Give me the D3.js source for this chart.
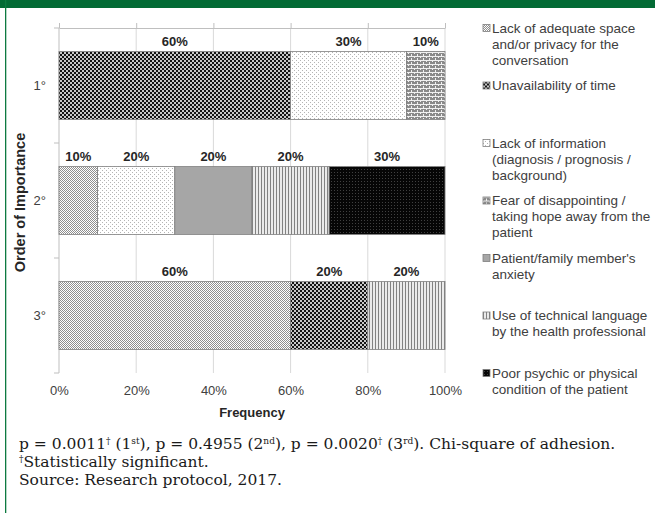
<!DOCTYPE html>
<html>
<head>
<meta charset="utf-8">
<script src="https://cdn.jsdelivr.net/npm/d3@7"></script>
<style>
  body { margin: 0; background: #fff; }
  svg { display: block; font-family: "Liberation Sans", Arial, sans-serif; }
</style>
</head>
<body>
<div id="chart"></div>
<script>
// categories (order of importance) and one array per reason, in % of answers
const categories = ["1°", "2°", "3°"];
const reasons = [
  "Lack of adequate space\nand/or privacy for the\nconversation",
  "Unavailability of time",
  "Lack of information\n(diagnosis / prognosis /\nbackground)",
  "Fear of disappointing /\ntaking hope away from the\npatient",
  "Patient/family member's\nanxiety",
  "Use of technical language\nby the health professional",
  "Poor psychic or physical\ncondition of the patient"
];
const lackSpace   = [0, 10, 60];
const noTime      = [60, 0, 20];
const lackInfo    = [30, 20, 0];
const fearHope    = [10, 0, 0];
const anxiety     = [0, 20, 0];
const technical   = [0, 20, 20];
const poorState   = [0, 30, 0];
const xTicks = [0, 20, 40, 60, 80, 100];

const series = [lackSpace, noTime, lackInfo, fearHope, anxiety, technical, poorState];
const keys = reasons.map((d, i) => "s" + i);
const patternIds = ["pSpace", "pTime", "pInfo", "pFear", "pAnx", "pTech", "pPoor"];

// rows for d3.stack
const rows = categories.map((c, j) => {
  const r = { cat: c };
  series.forEach((s, i) => r[keys[i]] = s[j]);
  return r;
});

const outerWidth = 655, outerHeight = 513;
const plot = { left: 59, right: 445, top: 28, bottom: 373 };

const svg = d3.select("#chart").append("svg")
  .attr("width", outerWidth)
  .attr("height", outerHeight);

// frame: green band on top and thin green line on the left
svg.append("rect").attr("x", 0).attr("y", 0).attr("width", outerWidth).attr("height", 8).attr("fill", "#036b35");
svg.append("rect").attr("x", 5).attr("y", 0).attr("width", 1.3).attr("height", outerHeight).attr("fill", "#0d7a40");

// fill patterns
const defs = svg.append("defs");
function pattern(id, w, h, bg, cells) {
  const p = defs.append("pattern").attr("id", id)
    .attr("patternUnits", "userSpaceOnUse")
    .attr("width", w).attr("height", h);
  p.append("rect").attr("width", w).attr("height", h).attr("fill", bg);
  cells.forEach(c => p.append("rect")
    .attr("x", c[0]).attr("y", c[1]).attr("width", c[2]).attr("height", c[3]).attr("fill", c[4]));
}
pattern("pSpace", 2, 2, "#ffffff", [[0, 0, 1, 1, "#8f8f8f"], [1, 1, 1, 1, "#8f8f8f"]]);
pattern("pTime", 4, 4, "#141414", [[0, 0, 2, 2, "#c8c8c8"], [2, 2, 2, 2, "#c8c8c8"]]);
pattern("pInfo", 4, 4, "#ffffff", [[0, 0, 1, 1, "#b4b4b4"], [2, 2, 1, 1, "#b4b4b4"]]);
pattern("pFear", 6, 4, "#8a8a8a", [[0, 0, 6, 1, "#f0f0f0"], [0, 0, 1, 2, "#f0f0f0"], [3, 2, 1, 2, "#f0f0f0"]]);
pattern("pAnx", 2, 2, "#a6a6a6", []);
pattern("pTech", 3, 2, "#ebebeb", [[0, 0, 1, 2, "#828282"]]);
pattern("pPoor", 3, 3, "#060606", [[1, 1, 1, 1, "#404040"]]);

const xScale = d3.scaleLinear().domain([0, 100]).range([plot.left, plot.right]);
const yScale = d3.scaleBand().domain(categories)
  .range([plot.top, plot.bottom])
  .paddingInner(0.41).paddingOuter(0.205);

// vertical gridlines
svg.append("g").selectAll("line")
  .data(xTicks.filter(d => d > 0))
  .join("line")
  .attr("x1", d => xScale(d)).attr("x2", d => xScale(d))
  .attr("y1", plot.top).attr("y2", plot.bottom)
  .attr("stroke", "#d9d9d9").attr("stroke-width", 1);

// top axis line with small ticks (no labels)
const topAxis = svg.append("g")
  .attr("transform", `translate(0,${plot.top})`)
  .call(d3.axisTop(xScale).tickValues(xTicks).tickSize(5).tickSizeOuter(0).tickFormat(""));
topAxis.selectAll("path, line").attr("stroke", "#bfbfbf");

// bottom labels
const bottomAxis = svg.append("g")
  .attr("transform", `translate(0,${plot.bottom})`)
  .call(d3.axisBottom(xScale).tickValues(xTicks).tickSize(0).tickPadding(13).tickFormat(d => d + "%"));
bottomAxis.select(".domain").remove();
bottomAxis.selectAll("text")
  .attr("font-family", "Liberation Sans, Arial, sans-serif")
  .attr("font-size", 13).attr("fill", "#404040");

// left axis: line, ticks at category boundaries, labels at centres
const step = yScale.step();
const bounds = [plot.top].concat(categories.map(c => yScale(c) + yScale.bandwidth() + step * yScale.paddingInner() / 2));
bounds[bounds.length - 1] = plot.bottom;
const leftAxis = svg.append("g");
leftAxis.append("line")
  .attr("x1", plot.left).attr("x2", plot.left)
  .attr("y1", plot.top).attr("y2", plot.bottom)
  .attr("stroke", "#bfbfbf");
leftAxis.selectAll(".tk").data(bounds).join("line").attr("class", "tk")
  .attr("x1", plot.left - 5).attr("x2", plot.left)
  .attr("y1", d => d).attr("y2", d => d)
  .attr("stroke", "#bfbfbf");
leftAxis.selectAll("text").data(categories).join("text")
  .attr("x", 46)
  .attr("y", d => yScale(d) + yScale.bandwidth() / 2)
  .attr("dy", "0.35em")
  .attr("text-anchor", "end")
  .attr("font-size", 13).attr("fill", "#404040")
  .text(d => d);

// stacked bars
const stack = d3.stack().keys(keys)(rows);
const layers = svg.append("g").selectAll("g")
  .data(stack)
  .join("g")
  .attr("fill", (d, i) => `url(#${patternIds[i]})`);

layers.selectAll("rect")
  .data(d => d.filter(p => p[1] - p[0] > 0))
  .join("rect")
  .attr("x", d => xScale(d[0]))
  .attr("y", d => yScale(d.data.cat))
  .attr("width", d => xScale(d[1]) - xScale(d[0]))
  .attr("height", yScale.bandwidth())
  .attr("stroke", "#7f7f7f")
  .attr("stroke-width", 0.8);

// value labels above each segment
layers.selectAll("text")
  .data(d => d.filter(p => p[1] - p[0] > 0))
  .join("text")
  .attr("x", d => xScale((d[0] + d[1]) / 2))
  .attr("y", d => yScale(d.data.cat) - 6)
  .attr("text-anchor", "middle")
  .attr("font-size", 13).attr("font-weight", "bold")
  .attr("fill", "#262626")
  .text(d => (d[1] - d[0]) + "%");

// axis titles
svg.append("text")
  .attr("transform", `translate(25,${(plot.top + plot.bottom) / 2 + 2}) rotate(-90)`)
  .attr("text-anchor", "middle")
  .attr("font-size", 14.5).attr("font-weight", "bold").attr("fill", "#262626")
  .text("Order of Importance");

svg.append("text")
  .attr("x", (plot.left + plot.right) / 2)
  .attr("y", 417)
  .attr("text-anchor", "middle")
  .attr("font-size", 13).attr("font-weight", "bold").attr("fill", "#262626")
  .text("Frequency");

// legend, entries spread evenly along the plot height
const legendStep = (plot.bottom - plot.top) / (reasons.length - 1);
const legend = svg.append("g").selectAll("g")
  .data(reasons)
  .join("g")
  .attr("transform", (d, i) => `translate(483,${plot.top + i * legendStep})`);

legend.append("rect")
  .attr("x", 0).attr("y", -3.5)
  .attr("width", 7).attr("height", 7)
  .attr("fill", (d, i) => `url(#${patternIds[i]})`)
  .attr("stroke", "#7f7f7f").attr("stroke-width", 0.8);

legend.append("text")
  .attr("font-size", 13.5).attr("fill", "#404040")
  .selectAll("tspan")
  .data(d => d.split("\n"))
  .join("tspan")
  .attr("x", 9)
  .attr("y", (d, i) => i * 16)
  .attr("dy", "0.35em")
  .text(d => d);

// footnote
const note = svg.append("g")
  .attr("font-family", "'DejaVu Serif', serif")
  .attr("font-size", 15.5).attr("fill", "#1a1a1a");

const line1 = note.append("text").attr("x", 19).attr("y", 449);
[
  ["p = 0.0011", false], ["†", true], [" (1", false], ["st", true],
  ["), p = 0.4955 (2", false], ["nd", true],
  ["), p = 0.0020", false], ["†", true], [" (3", false], ["rd", true],
  ["). Chi-square of adhesion.", false]
].forEach(([t, sup]) => {
  const ts = line1.append("tspan").text(t);
  if (sup) ts.attr("font-size", 9).attr("baseline-shift", "super");
});

const line2 = note.append("text").attr("x", 19).attr("y", 467);
line2.append("tspan").attr("font-size", 9).attr("baseline-shift", "super").text("†");
line2.append("tspan").text("Statistically significant.");

note.append("text").attr("x", 19).attr("y", 485).text("Source: Research protocol, 2017.");
</script>
</body>
</html>
